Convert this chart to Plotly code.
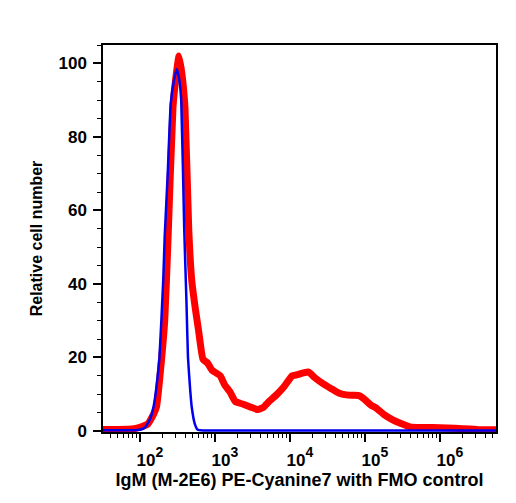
import plotly.graph_objects as go

# log10 of fluorescence intensity and relative cell number
red_logx = [1.5, 1.7, 1.9, 2.0, 2.1, 2.18, 2.22, 2.29, 2.33, 2.37, 2.44, 2.49, 2.52, 2.56, 2.6,
            2.65, 2.69, 2.74, 2.78, 2.84, 2.9, 2.96, 3.02, 3.07, 3.13, 3.2, 3.27, 3.37, 3.47,
            3.57, 3.65, 3.72, 3.82, 3.92, 4.03, 4.1, 4.18, 4.25, 4.33, 4.43, 4.55, 4.65, 4.75,
            4.85, 4.92, 5.0, 5.08, 5.15, 5.25, 5.37, 5.48, 5.6, 5.75, 5.9, 6.1, 6.3, 6.5, 6.75]
red_y = [0.4, 0.4, 0.5, 1.0, 1.8, 4.5, 6.5, 20, 30, 50, 88, 98, 102, 97, 88,
         55, 41, 33, 27.5, 19.5, 18.5, 16.5, 15.7, 15, 12.5, 10.6, 8, 7.3, 6.5,
         5.8, 6.5, 8, 9.8, 12, 15, 15.3, 15.8, 16, 14.5, 13, 11.5, 10.3, 9.8,
         9.7, 9.6, 8.5, 7, 6.2, 4.5, 3, 2, 1.1, 0.9, 0.9, 0.8, 0.6, 0.4, 0.3]

blue_logx = [1.5, 1.9, 2.0, 2.07, 2.13, 2.18, 2.22, 2.26, 2.31, 2.33, 2.37, 2.41, 2.45, 2.49,
             2.52, 2.55, 2.59, 2.62, 2.64, 2.67, 2.69, 2.73, 2.77, 2.85, 6.75]
blue_y = [0.2, 0.2, 0.3, 1, 3, 6.5, 12, 20, 41, 53, 70, 89, 95, 98.5,
          96, 90, 55, 35, 20, 11, 6.5, 2, 0.3, 0.1, 0.1]

x_tickvals = [1e2, 1e3, 1e4, 1e5, 1e6]
x_exponents = ["2", "3", "4", "5", "6"]
y_tickvals = [0, 20, 40, 60, 80, 100]

x_ticktext = ["<span style=\"font-size:17px\">10</span><sup>%s</sup>" % e for e in x_exponents]

red_x = [10 ** v for v in red_logx]
blue_x = [10 ** v for v in blue_logx]

minor_x = [m * 10 ** e for e in range(1, 7) for m in range(2, 10)
           if 10 ** 1.507 <= m * 10 ** e <= 10 ** 6.747]

fig = go.Figure()
fig.add_trace(go.Scatter(x=red_x, y=red_y, mode="lines",
                         line=dict(color="#ff0000", width=7, shape="spline", smoothing=0.4),
                         showlegend=False))
fig.add_trace(go.Scatter(x=blue_x, y=blue_y, mode="lines",
                         line=dict(color="#0000ee", width=2.5, shape="spline", smoothing=0.4),
                         showlegend=False))

font_family = "Liberation Sans, Arial, sans-serif"
fig.update_layout(
    width=516, height=503,
    margin=dict(l=103, r=20, t=45, b=71),
    paper_bgcolor="white", plot_bgcolor="white",
    font=dict(family=font_family, color="black"),
    xaxis=dict(
        type="log", range=[1.507, 6.747],
        tickmode="array", tickvals=x_tickvals, ticktext=x_ticktext,
        ticks="outside", ticklen=8, tickwidth=1.5, tickcolor="black",
        showline=True, mirror=True, linecolor="black", linewidth=1.5,
        showgrid=False, zeroline=False,
        tickfont=dict(size=20, family=font_family, weight="bold"),
        ticklabelshift=10, ticklabelstandoff=0,
        minor=dict(tickmode="array", tickvals=minor_x, ticks="outside", ticklen=4,
                   tickwidth=1.2, tickcolor="black", showgrid=False),
        title=dict(text="IgM (M-2E6) PE-Cyanine7 with FMO control",
                   font=dict(size=18, family=font_family, weight="bold"), standoff=1),
    ),
    yaxis=dict(
        range=[-0.3, 105],
        tickmode="array", tickvals=y_tickvals,
        ticks="outside", ticklen=8, tickwidth=1.5, tickcolor="black",
        showline=True, mirror=True, linecolor="black", linewidth=1.5,
        showgrid=False, zeroline=False,
        tickfont=dict(size=17, family=font_family, weight="bold"),
        ticklabelstandoff=3,
        minor=dict(dtick=5, ticks="outside", ticklen=4, tickwidth=1.2,
                   tickcolor="black", showgrid=False),
        title=dict(text="Relative cell number",
                   font=dict(size=16, family=font_family, weight="bold"), standoff=12),
    ),
)

fig.write_html("out.html")
